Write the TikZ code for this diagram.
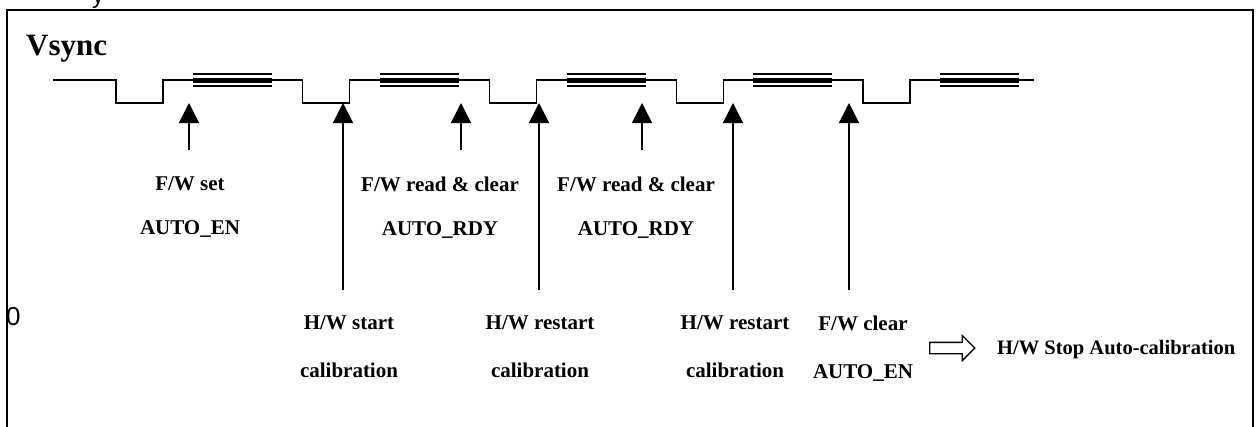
\documentclass[tikz,border=0pt]{standalone}
\usepackage{fontspec}
\setmainfont{Liberation Serif}
\setsansfont{Liberation Sans}
\usetikzlibrary{arrows.meta,shapes.arrows}

\tikzset{
  lbl/.style={font=\fontsize{21}{#1}\selectfont\bfseries,align=center,inner sep=0pt},
  lbl/.default=48,
  trig/.style={-{Triangle[width=20pt,length=20pt]},line width=1.6pt},
  wave/.style={line width=1.3pt},
}

\begin{document}
\begin{tikzpicture}[x=1pt,y=-1pt]
    \useasboundingbox (0,0) rectangle (1259,426);
    \draw[line width=2pt] (7,440) -- (7,10) -- (1253,10) -- (1253,440);
    \node[anchor=base west,inner sep=0pt,font=\sffamily\fontsize{24}{28}\selectfont] (ycut) at (92,3) {y};
    \node[anchor=base west,inner sep=0pt,font=\fontsize{31}{36}\selectfont\bfseries] (vsync) at (26,55) {Vsync};
    \node[anchor=base west,inner sep=0pt,font=\sffamily\fontsize{26}{30}\selectfont] (zero) at (6,325) {0};

    % Vsync waveform
    \draw[wave] (53,80) foreach \f in {116,302.75,489.5,676.25,863} { -- (\f,80) -- (\f,103) -- (\f+47,103) -- (\f+47,80) } -- (1034,80);
    \foreach \f in {116,302.75,489.5,676.25,863} {
      \draw[line width=2.3pt] (\f+77,74) -- (\f+156,74) (\f+77,86) -- (\f+156,86);
      \draw[line width=5pt] (\f+77,80) -- (\f+156,80);
    }

    % labels
    \node[lbl=44] (fwset) at (190,207.5) {F/W set\\AUTO\_EN};
    \node[lbl=44] (fwread) at (440,207.5) {F/W read \& clear\\AUTO\_RDY};
    \node[lbl=44] (fwread2) at (636,207.5) {F/W read \& clear\\AUTO\_RDY};
    \node[lbl] (hwstart) at (349,347) {H/W start\\calibration};
    \node[lbl] (hwrestart) at (540,347) {H/W restart\\calibration};
    \node[lbl] (hwrestart2) at (735,347) {H/W restart\\calibration};
    \node[lbl] (fwclear) at (863,348.5) {F/W clear\\AUTO\_EN};
    \node[single arrow,draw,line width=1.3pt,minimum height=45pt,inner xsep=0pt,inner ysep=5pt,
          single arrow head extend=7pt] (stop) at (949.5,348) {};
    \node[anchor=base west,inner sep=0pt,font=\fontsize{20.5}{24}\selectfont\bfseries] (stoptext) at (997,354) {H/W Stop Auto-calibration};

    % trigger arrows
    \coordinate (setT) at (189,150);  \coordinate (setH) at (189,103);
    \coordinate (startT) at (343,290); \coordinate (startH) at (343,103);
    \coordinate (readT) at (461,150);  \coordinate (readH) at (461,103);
    \coordinate (restT) at (539,290);  \coordinate (restH) at (539,103);
    \coordinate (read2T) at (642,150); \coordinate (read2H) at (642,103);
    \coordinate (rest2T) at (733,290); \coordinate (rest2H) at (733,103);
    \coordinate (clearT) at (849,290); \coordinate (clearH) at (849,103);
    \path[trig] (setT) edge (setH);
    \path[trig] (startT) edge (startH);
    \path[trig] (readT) edge (readH);
    \path[trig] (restT) edge (restH);
    \path[trig] (read2T) edge (read2H);
    \path[trig] (rest2T) edge (rest2H);
    \path[trig] (clearT) edge (clearH);
\end{tikzpicture}
\end{document}
